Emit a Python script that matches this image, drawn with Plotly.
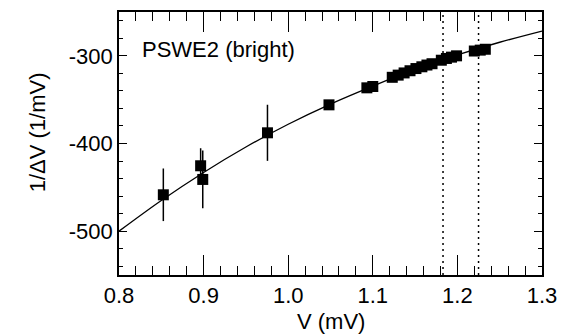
import plotly.graph_objects as go

# measured points
v_mv = [0.8524, 0.8965, 0.899, 0.9755, 1.0482, 1.093, 1.100, 1.123, 1.130, 1.137, 1.144,
        1.151, 1.158, 1.164, 1.170, 1.181, 1.187, 1.193, 1.199, 1.220, 1.227, 1.233]
inv_dv = [-458.5, -425.4, -441.0, -387.8, -355.9, -336.5, -335.0, -324.5, -322.0, -319.5, -317.0,
          -314.5, -312.5, -310.5, -309.0, -305.0, -303.0, -301.5, -300.0, -294.5, -293.5, -292.5]
inv_err = [30, 20, 33, 32, 3, 3, 3, 3, 3, 3, 3,
           3, 3, 3, 3, 3, 3, 3, 3, 3, 3, 3]

# model curve
curve_v = [0.80, 0.85, 0.90, 0.95, 1.00, 1.05, 1.10, 1.15, 1.20, 1.25, 1.30]
curve_inv = [-500, -465, -433, -404, -378, -355, -334.5, -315.5, -299, -284.5, -271.7]

# dotted reference voltages
ref_v = [1.183, 1.225]

x_range = [0.8, 1.3]
y_range = [-550, -250]
x_ticks = [0.8, 0.9, 1.0, 1.1, 1.2, 1.3]
x_ticktext = ["0.8", "0.9", "1.0", "1.1", "1.2", "1.3"]
y_ticks = [-500, -400, -300]
y_ticktext = ["-500", "-400", "-300"]

FONT = "Liberation Sans, Arial, Helvetica, sans-serif"
FS = 22

fig = go.Figure()

fig.add_trace(go.Scatter(x=curve_v, y=curve_inv, mode="lines", line=dict(color="black", width=1.3, shape="spline"),
                         showlegend=False, hoverinfo="skip"))

for rv in ref_v:
    fig.add_trace(go.Scatter(x=[rv, rv], y=y_range, mode="lines",
                             line=dict(color="black", width=1.5, dash="2px,4px"), showlegend=False))

fig.add_trace(go.Scatter(x=v_mv, y=inv_dv, mode="markers",
                         marker=dict(symbol="square", size=11, color="black"),
                         error_y=dict(type="data", array=inv_err, color="black", thickness=1.5, width=0),
                         showlegend=False))

axis_common = dict(showline=True, linecolor="black", linewidth=1.5, mirror="ticks", ticks="inside",
                   tickcolor="black", showgrid=False, zeroline=False,
                   tickfont=dict(family=FONT, size=FS, color="black"))

fig.update_layout(
    width=574, height=335,
    margin=dict(l=119, r=32, t=10, b=60),
    paper_bgcolor="white", plot_bgcolor="white",
    xaxis=dict(range=x_range, tickvals=x_ticks, ticktext=x_ticktext, ticklen=20, tickwidth=1.3,
               minor=dict(dtick=0.02, tick0=0.8, ticklen=9, ticks="inside", tickcolor="black", tickwidth=1.3),
               **axis_common),
    yaxis=dict(range=y_range, tickvals=y_ticks, ticktext=y_ticktext, ticklen=8, tickwidth=1.3,
               minor=dict(dtick=20, tick0=-540, ticklen=4, ticks="inside", tickcolor="black", tickwidth=1.3),
               **axis_common),
    annotations=[
        dict(text="PSWE2 (bright)", xref="paper", yref="paper", x=(140 - 119) / 423, y=(275 - 48) / 265,
             xanchor="left", yanchor="middle", showarrow=False, font=dict(family=FONT, size=FS, color="black")),
        dict(text="V (mV)", xref="paper", yref="paper", x=0.5, y=(275 - 321.5) / 265,
             xanchor="center", yanchor="middle", showarrow=False, font=dict(family=FONT, size=FS, color="black")),
        dict(text="1/ΔV (1/mV)", xref="paper", yref="paper", x=(37.5 - 119) / 423, y=(275 - 131.7) / 265,
             xanchor="center", yanchor="middle", textangle=-90, showarrow=False,
             font=dict(family=FONT, size=FS, color="black")),
    ],
)

fig.write_html("out.html")
